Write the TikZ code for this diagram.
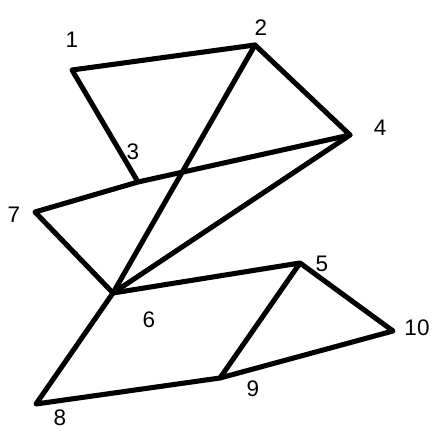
\documentclass[tikz,border=0pt]{standalone}
\usepackage{fontspec}
\setmainfont{Liberation Sans}
\usepackage{tikz}
\usetikzlibrary{positioning, calc}

\tikzset{
    edge/.style={line width=3.6pt, line cap=round, line join=round},
    lbl/.style={font=\fontsize{16}{18}\selectfont, inner sep=0pt}
}

\begin{document}
\begin{tikzpicture}
\useasboundingbox (0,0) rectangle (11,11);

% Vertices
\coordinate (v1) at (1.8,9.25);
\coordinate (v2) at (6.375,9.875);
\coordinate (v3) at (3.45,6.45);
\coordinate (v4) at (8.75,7.625);
\coordinate (v5) at (7.5,4.425);
\coordinate (v6) at (2.825,3.675);
\coordinate (v7) at (0.875,5.7);
\coordinate (v8) at (0.9,0.9);
\coordinate (v9) at (5.5,1.55);
\coordinate (v10) at (9.825,2.725);

% Labels
\node[lbl] (l1) at (1.8,10.0) {1};
\node[lbl] (l2) at (6.525,10.3) {2};
\node[lbl] (l3) at (3.325,7.2) {3};
\node[lbl] (l4) at (9.5,7.8) {4};
\node[lbl] (l5) at (8.05,4.4) {5};
\node[lbl] (l6) at (3.725,3.0) {6};
\node[lbl] (l7) at (0.35,5.625) {7};
\node[lbl] (l8) at (1.5,0.55) {8};
\node[lbl] (l9) at (6.325,1.275) {9};
\node[lbl] (l10) at (10.425,2.8) {10};

% Edges
\draw[edge] (v3) -- (v1) -- (v2) -- (v4) -- (v3) -- (v7) -- (v6);
\draw[edge] (v2) -- (v6) -- (v4);
\draw[edge] (v6) -- (v5) -- (v10) -- (v9) -- (v5);
\draw[edge] (v6) -- (v8) -- (v9);
\end{tikzpicture}
\end{document}
